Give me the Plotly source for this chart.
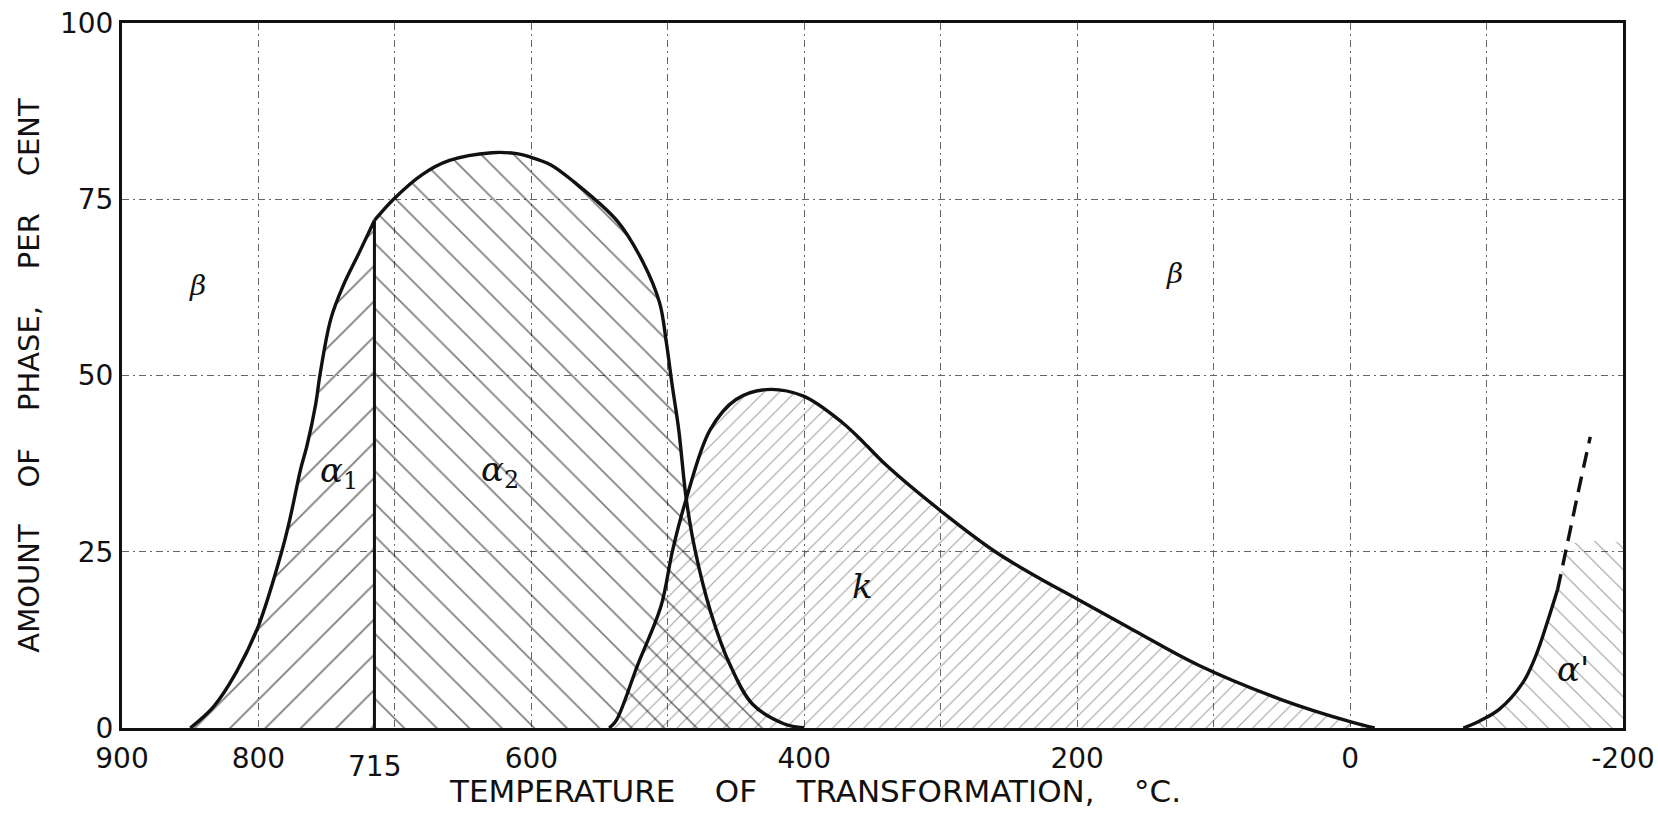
import numpy as np
import plotly.graph_objects as go

# ---- data ----
alpha_temp = [850, 833, 816, 800, 783, 777, 769, 764.5, 758, 755, 747, 738, 726, 715, 701, 680, 660, 629, 612, 601,
              586, 569, 537, 518, 506, 501, 497, 492, 486.5, 480, 468.5, 454.5, 438, 415, 400]
alpha_pct = [0, 3, 8, 14.5, 25, 29.6, 36.8, 40, 46, 50, 58, 62.7, 67.5, 72, 75, 78.5, 80.5, 81.6, 81.5, 81.0,
             79.9, 77.5, 71.9, 66, 60.3, 54.6, 48.9, 42.3, 32.5, 25.2, 16.4, 9, 3.4, 0.6, 0]
alpha_split_temp = 715  # boundary between alpha1 and alpha2

k_temp = [543, 538, 522, 505, 496.5, 486.5, 469, 450, 428, 401, 372, 356, 340, 300, 260, 230, 200, 158, 111, 50, 0, -18]
k_pct = [0, 1, 9, 17.3, 25.2, 32.5, 42.3, 46.6, 48, 47.1, 43.3, 40.4, 37.3, 30.8, 25, 21.5, 18.3, 13.8, 8.9, 4, 0.9, 0]

alpha_prime_temp = [-83, -95, -109, -126.5, -136, -146, -152]
alpha_prime_pct = [0, 1, 2.6, 6.4, 10.2, 15.9, 19.6]
alpha_prime_ext_temp = [-152, -158.3, -167, -176]
alpha_prime_ext_pct = [19.6, 25.3, 33.3, 41.3]
alpha_prime_hatch_top = 26

x_tickvals = [900, 800, 600, 400, 200, 0, -200]
x_ticktext = ["900", "800", "600", "400", "200", "0", "-200"]
x_minor_grid = [700, 500, 300, 100, -100]
y_tickvals = [0, 25, 50, 75, 100]
y_ticktext = ["0", "25", "50", "75", "100"]
x_range = [900, -200]
y_range = [0, 100]

labels = [
    ("<i>β</i>", 845, 62.7, 28),
    ("<i>β</i>", 129, 64.4, 28),
    ("<i>α</i><sub>1</sub>", 741, 36.2, 34),
    ("<i>α</i><sub>2</sub>", 623, 36.4, 34),
    ("<i>k</i>", 357, 20.1, 34),
    ("<i>α'</i>", -163, 8.3, 34),
]

INK = "#111111"
GRID = "#666666"
GRID_DASH = "7px,4px,2px,4px"
SMOOTH = 1.0
NB = "\u00a0"
x_title = (NB * 4).join(["TEMPERATURE", "OF", "TRANSFORMATION,", "°C."])
y_title = (NB * 4).join(["AMOUNT", "OF", "PHASE,", "PER", "CENT"])

fig = go.Figure()

at = np.array(alpha_temp)
ap = np.array(alpha_pct)
a1 = at >= alpha_split_temp
a2 = at <= alpha_split_temp

# k region (finer hatch)
fig.add_trace(go.Scatter(
    x=k_temp, y=k_pct, mode="lines", fill="tozeroy",
    line=dict(color=INK, width=3.4, shape="spline", smoothing=SMOOTH),
    fillcolor="rgba(0,0,0,0)",
    fillpattern=dict(shape="/", size=11, solidity=0.1, fgcolor="#444444", bgcolor="rgba(0,0,0,0)"),
    showlegend=False, hoverinfo="skip"))

# alpha1 region
fig.add_trace(go.Scatter(
    x=at[a1], y=ap[a1], mode="lines", fill="tozeroy",
    line=dict(color=INK, width=3.4, shape="spline", smoothing=SMOOTH),
    fillcolor="rgba(0,0,0,0)",
    fillpattern=dict(shape="/", size=25, solidity=0.075, fgcolor="#000000", bgcolor="rgba(0,0,0,0)"),
    showlegend=False, hoverinfo="skip"))

# alpha2 region
fig.add_trace(go.Scatter(
    x=at[a2], y=ap[a2], mode="lines", fill="tozeroy",
    line=dict(color=INK, width=3.4, shape="spline", smoothing=SMOOTH),
    fillcolor="rgba(0,0,0,0)",
    fillpattern=dict(shape="\\", size=23, solidity=0.075, fgcolor="#000000", bgcolor="rgba(0,0,0,0)"),
    showlegend=False, hoverinfo="skip"))

# 715 boundary line
split_y = float(np.interp(alpha_split_temp, at[::-1], ap[::-1]))
fig.add_trace(go.Scatter(
    x=[alpha_split_temp, alpha_split_temp], y=[y_range[0], split_y], mode="lines",
    line=dict(color=INK, width=3), showlegend=False, hoverinfo="skip"))

# alpha' hatch region: curve up to hatch top, then to right axis
apt = list(alpha_prime_temp) + list(alpha_prime_ext_temp[1:])
app = list(alpha_prime_pct) + list(alpha_prime_ext_pct[1:])
top_t = float(np.interp(alpha_prime_hatch_top, app, apt))
poly_x = [t for t, p in zip(apt, app) if p <= alpha_prime_hatch_top] + [top_t, x_range[1], x_range[1]]
poly_y = [p for p in app if p <= alpha_prime_hatch_top] + [alpha_prime_hatch_top, alpha_prime_hatch_top, y_range[0]]
fig.add_trace(go.Scatter(
    x=poly_x, y=poly_y, mode="lines", fill="toself",
    line=dict(width=0, color="rgba(0,0,0,0)", shape="spline", smoothing=0.6),
    fillcolor="rgba(0,0,0,0)",
    fillpattern=dict(shape="\\", size=15, solidity=0.07, fgcolor="#333333", bgcolor="rgba(0,0,0,0)"),
    showlegend=False, hoverinfo="skip"))

fig.add_trace(go.Scatter(
    x=alpha_prime_temp, y=alpha_prime_pct, mode="lines",
    line=dict(color=INK, width=3.4, shape="spline", smoothing=SMOOTH),
    showlegend=False, hoverinfo="skip"))
fig.add_trace(go.Scatter(
    x=alpha_prime_ext_temp, y=alpha_prime_ext_pct, mode="lines",
    line=dict(color=INK, width=3.4, dash="16px,9px", shape="spline", smoothing=SMOOTH),
    showlegend=False, hoverinfo="skip"))

for txt, x, y, sz in labels:
    fig.add_annotation(x=x, y=y, text=txt, showarrow=False,
                       font=dict(family="DejaVu Serif", size=sz, color=INK))

# offset 715 tick label
fig.add_annotation(x=alpha_split_temp, y=y_range[0], yref="y", text=str(alpha_split_temp), showarrow=False,
                   yshift=-38, font=dict(family="DejaVu Sans", size=28, color=INK))

# x axis title (placed as in the reference, slightly left of centre)
fig.add_annotation(xref="paper", yref="paper", x=0.462, y=0, yanchor="middle", yshift=-63,
                   text=x_title, showarrow=False, font=dict(family="DejaVu Sans", size=31, color=INK))

fig.update_layout(
    width=1658, height=816,
    margin=dict(l=122, r=35, t=23, b=88),
    paper_bgcolor="white", plot_bgcolor="white",
    font=dict(family="DejaVu Sans", color=INK),
    xaxis=dict(range=x_range, tickmode="array", tickvals=x_tickvals, ticktext=x_ticktext,
               automargin=False, ticklabelstandoff=3,
               showgrid=True, gridcolor=GRID, gridwidth=1, griddash=GRID_DASH,
               minor=dict(tickmode="array", tickvals=x_minor_grid, showgrid=True,
                          gridcolor=GRID, gridwidth=1, griddash=GRID_DASH, ticks=""),
               zeroline=False, showline=True, linecolor=INK, linewidth=3, mirror=True,
               ticks="", tickfont=dict(size=28, color=INK)),
    yaxis=dict(range=y_range, tickmode="array", tickvals=y_tickvals, ticktext=y_ticktext,
               automargin=False,
               showgrid=True, gridcolor=GRID, gridwidth=1, griddash=GRID_DASH,
               zeroline=False, showline=True, linecolor=INK, linewidth=3, mirror=True,
               ticks="", tickfont=dict(size=28, color=INK),
               title=dict(text=y_title, font=dict(size=29, color=INK), standoff=12)),
)

fig.write_html("out.html")
